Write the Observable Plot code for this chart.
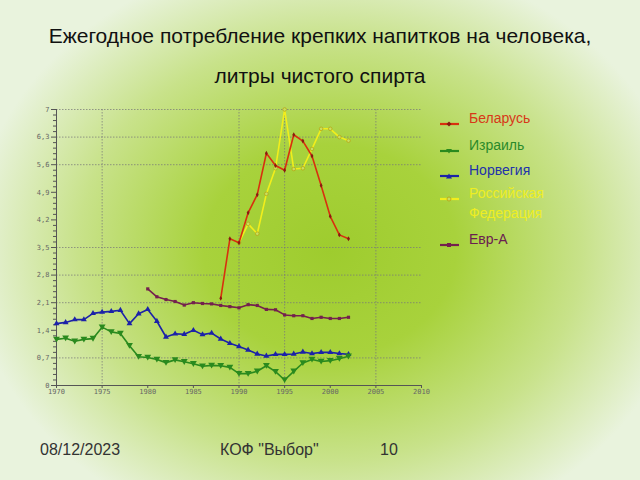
<!DOCTYPE html>
<html>
<head>
<meta charset="utf-8">
<script src="https://cdn.jsdelivr.net/npm/d3@7"></script>
<script src="https://cdn.jsdelivr.net/npm/@observablehq/plot@0.6"></script>
<style>
  html, body { margin: 0; padding: 0; }
  body {
    width: 640px; height: 480px; overflow: hidden; position: relative;
    font-family: "Liberation Sans", Arial, sans-serif;
    background: radial-gradient(ellipse 360px 300px at 330px 250px, #9ecc2e 0%, #a8d23c 35%, #c8e28a 70%, #e9f3dd 100%);
  }
  .title { position: absolute; left: 0; width: 640px; text-align: center; font-size: 21px; color: #111; }
  #chart { position: absolute; left: 0; top: 100px; }
  .leg { position: absolute; left: 469px; font-size: 14px; line-height: 20px; }
  .sym { position: absolute; left: 438px; }
  .foot { position: absolute; top: 441px; font-size: 16px; color: #333; }
</style>
</head>
<body>
<div class="title" style="top:24px">Ежегодное потребление крепких напитков на человека,</div>
<div class="title" style="top:64px">литры чистого спирта</div>
<div id="chart"></div>
<div id="legend"></div>
<div class="foot" style="left:40px">08/12/2023</div>
<div class="foot" style="left:220px">КОФ "Выбор"</div>
<div class="foot" style="left:380px">10</div>
<script>
// ---- data ----
const yearsLong = d3.range(1970, 2003);          // 1970..2002
const yearsEvr = d3.range(1980, 2003);           // 1980..2002
const yearsBel = d3.range(1988, 2003);           // 1988..2002
const yearsRus = d3.range(1990, 2003);           // 1990..2002

const norway = [1.57,1.60,1.67,1.67,1.83,1.86,1.88,1.91,1.57,1.82,1.93,1.63,1.23,1.31,1.30,1.40,1.29,1.33,1.18,1.07,0.99,0.90,0.80,0.75,0.79,0.79,0.80,0.85,0.81,0.84,0.84,0.81,0.79];
const israel = [1.17,1.20,1.12,1.17,1.19,1.48,1.36,1.32,1.01,0.73,0.71,0.66,0.58,0.65,0.60,0.55,0.49,0.51,0.50,0.46,0.30,0.30,0.36,0.50,0.35,0.14,0.36,0.57,0.66,0.61,0.63,0.68,0.74];
const evrA = [2.45,2.25,2.18,2.13,2.04,2.10,2.08,2.07,2.03,2.00,1.97,2.05,2.03,1.93,1.92,1.79,1.77,1.77,1.70,1.73,1.70,1.70,1.73];
const belarus = [2.21,3.72,3.62,4.38,4.84,5.89,5.58,5.46,6.36,6.20,5.82,5.07,4.29,3.82,3.72];
const russia = [3.62,4.10,3.85,4.86,5.51,7.00,5.49,5.51,6.00,6.51,6.51,6.30,6.21];

const seriesNames = ["Беларусь", "Израиль", "Норвегия", "Российская Федерация", "Евр-А"];
const seriesColors = ["#d8300e", "#2a8a1e", "#1c22a8", "#f2ee1c", "#74204e"];
const textColors = ["#d83818", "#2a8a2a", "#2233aa", "#eeee22", "#6a2050"];

const yTicks = [0, 0.7, 1.4, 2.1, 2.8, 3.5, 4.2, 4.9, 5.6, 6.3, 7];
const xTicks = [1970, 1975, 1980, 1985, 1990, 1995, 2000, 2005, 2010];
const gridYVals = [0.7, 2.1, 2.8, 3.5, 5.6, 6.3, 7];
const gridXVals = [1975, 1990, 1995, 2005];

// ---- build table ----
const rows = (years, vals, s) => years.map((y, i) => ({year: y, value: vals[i], series: s}));
const bel = rows(yearsBel, belarus, seriesNames[0]);
const isr = rows(yearsLong, israel, seriesNames[1]);
const nor = rows(yearsLong, norway, seriesNames[2]);
const rus = rows(yearsRus, russia, seriesNames[3]);
const evr = rows(yearsEvr, evrA, seriesNames[4]);

const triDown = {
  draw(ctx, size) {
    const r = Math.sqrt(size / 1.3);
    ctx.moveTo(-r, -r * 0.8);
    ctx.lineTo(r, -r * 0.8);
    ctx.lineTo(0, r * 0.9);
    ctx.closePath();
  }
};
const minorTicks = d3.range(0, 7.001, 0.14).filter(v => !yTicks.some(t => Math.abs(t - v) < 1e-6));

const chart = Plot.plot({
  width: 430, height: 300,
  marginLeft: 56, marginRight: 9, marginTop: 9, marginBottom: 15,
  style: {background: "transparent", overflow: "visible", fontFamily: "DejaVu Sans Mono, monospace"},
  x: {domain: [1970, 2010], axis: null},
  y: {domain: [0, 7], axis: null},
  marks: [
    Plot.gridY(gridYVals, {stroke: "#7a7a7a", strokeOpacity: 0.75, strokeDasharray: "1.5,1.5"}),
    Plot.gridX(gridXVals, {stroke: "#7a7a7a", strokeOpacity: 0.75, strokeDasharray: "1.5,1.5"}),
    Plot.axisY(minorTicks, {tickSize: 3, text: null, label: null, stroke: "#555", strokeOpacity: 1}),
    Plot.axisY(yTicks, {tickSize: 5, tickPadding: 2, fontSize: 7, fill: "#666", stroke: "#555", strokeOpacity: 1, label: null,
      tickFormat: d => String(d).replace(".", ",")}),
    Plot.axisX(xTicks, {tickSize: 3, tickPadding: 1, fontSize: 7, fill: "#666", stroke: "#555", strokeOpacity: 1, label: null,
      tickFormat: d => String(d)}),
    Plot.ruleX([1970], {stroke: "#555"}),
    Plot.ruleY([0], {stroke: "#555"}),
    Plot.line(evr, {x: "year", y: "value", stroke: seriesColors[4], strokeWidth: 1.6}),
    Plot.dot(evr, {x: "year", y: "value", symbol: "square", r: 1.8, fill: seriesColors[4], stroke: "none"}),
    Plot.line(nor, {x: "year", y: "value", stroke: seriesColors[2], strokeWidth: 1.6}),
    Plot.dot(nor, {x: "year", y: "value", symbol: "triangle", r: 2.2, fill: seriesColors[2], stroke: "none"}),
    Plot.line(isr, {x: "year", y: "value", stroke: seriesColors[1], strokeWidth: 1.6}),
    Plot.dot(isr, {x: "year", y: "value", symbol: triDown, r: 2.2, fill: seriesColors[1], stroke: "none"}),
    Plot.line(rus, {x: "year", y: "value", stroke: seriesColors[3], strokeWidth: 1.6}),
    Plot.dot(rus, {x: "year", y: "value", symbol: "circle", r: 1.8, fill: "#c8e060", stroke: "#b8a010", strokeWidth: 0.7}),
    Plot.line(bel, {x: "year", y: "value", stroke: seriesColors[0], strokeWidth: 1.6}),
    Plot.dot(bel, {x: "year", y: "value", symbol: "diamond", r: 1.5, fill: "#8a1a10", stroke: "none"})
  ]
});
document.getElementById("chart").appendChild(chart);

// ---- legend ----
const legendY = [118, 145, 170, 203, 239];
const symbolsHTML = [
  '<path d="M11,1.5L13.5,4L11,6.5L8.5,4Z" fill="#8a1a10"/>',
  '<path d="M8,2L14,2L11,6.5Z" fill="#2a8a1e"/>',
  '<path d="M11,1.5L14,6.5L8,6.5Z" fill="#1c22a8"/>',
  '<circle cx="11" cy="4" r="2" fill="#c8e060" stroke="#b8a010" stroke-width="0.8"/>',
  '<rect x="9" y="2" width="4" height="4" fill="#74204e"/>'
];
const leg = document.getElementById("legend");
seriesNames.forEach((name, i) => {
  const cy = legendY[i];
  const s = document.createElement("div");
  s.className = "sym";
  s.style.top = (i === 3 ? 189 : cy - 4) + "px";
  s.innerHTML = `<svg width="24" height="8"><line x1="2" x2="21" y1="4" y2="4" stroke="${seriesColors[i]}" stroke-width="2.2"/>${symbolsHTML[i]}</svg>`;
  leg.appendChild(s);
  const t = document.createElement("div");
  t.className = "leg";
  t.style.color = textColors[i];
  if (i === 3) {
    t.style.top = (183) + "px";
    t.innerHTML = "Российская<br>Федерация";
  } else {
    t.style.top = (cy - 10) + "px";
    t.textContent = name;
  }
  leg.appendChild(t);
});
</script>
</body>
</html>
